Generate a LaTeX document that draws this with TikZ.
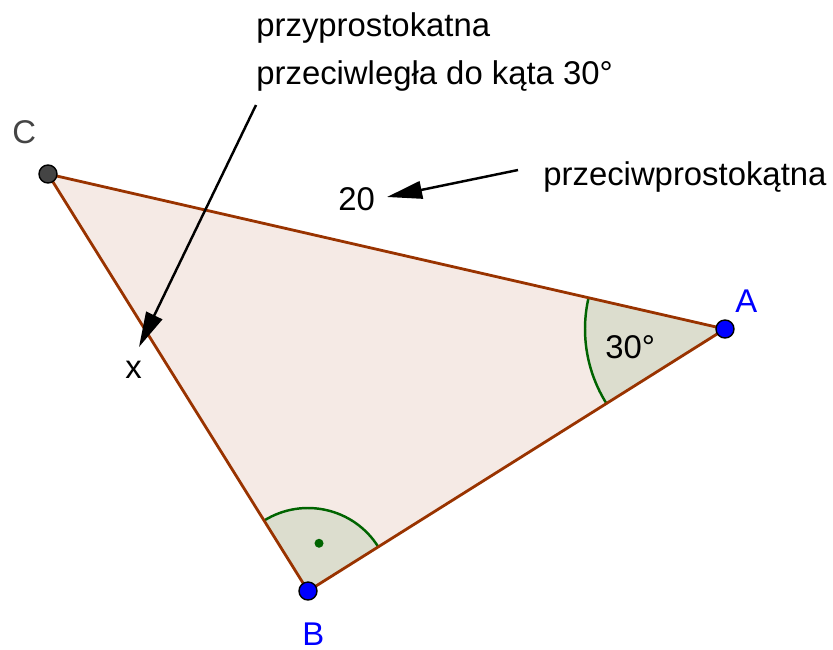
\documentclass[tikz,border=0pt]{standalone}
\usepackage{fontspec}
\setmainfont{Liberation Sans}
\usepackage{xcolor}
\usetikzlibrary{arrows.meta,calc}
\definecolor{ggbrown}{HTML}{993300}
\definecolor{gggreen}{HTML}{006400}
\definecolor{ggblue}{HTML}{0000FF}
\definecolor{gggray}{HTML}{444444}

\begin{document}
\begin{tikzpicture}[
  bok/.style={draw=ggbrown, line width=1.6pt, line join=round},
  kat/.style={fill=gggreen, fill opacity=0.1},
  luk/.style={draw=gggreen, line width=1.4pt},
  punkt/.style={circle, draw=black, line width=0.8pt, minimum size=0.36cm, inner sep=0pt},
  napis/.style={anchor=base west, inner sep=0pt, font=\fontsize{18.7}{22}\selectfont},
  strzalka/.style={-{Triangle[length=20pt, width=10pt]}, line width=1.4pt, black}]
\useasboundingbox (0,0) rectangle (16.66,-12.98);
\coordinate (C) at (0.96,-3.48);
\coordinate (A) at (14.5,-6.58);
\coordinate (B) at (6.16,-11.82);
\fill[ggbrown, fill opacity=0.1] (A) -- (B) -- (C) -- cycle;
\fill[kat] (A) -- ++(167.1:2.8) arc[start angle=167.1, end angle=212.1, radius=2.8] -- cycle;
\draw[luk] ($(A)+(167.1:2.8)$) arc[start angle=167.1, end angle=212.1, radius=2.8];
\fill[kat] (B) -- ++(32.1:1.66) arc[start angle=32.1, end angle=121.9, radius=1.66] -- cycle;
\draw[luk] ($(B)+(32.1:1.66)$) arc[start angle=32.1, end angle=121.9, radius=1.66];
\fill[gggreen] ($(B)+(77:0.98)$) circle (0.09);
\draw[bok] (A) -- (B) -- (C) -- cycle;
\node[punkt, fill=gggray] (pC) at (C) {};
\node[punkt, fill=ggblue] (pA) at (A) {};
\node[punkt, fill=ggblue] (pB) at (B) {};
\node[napis, text=gggray] (lC) at (0.24,-2.86) {C};
\node[napis, text=ggblue] (lA) at (14.70,-6.24) {A};
\node[napis, text=ggblue] (lB) at (6.04,-12.90) {B};
\node[napis] (alfa) at (12.10,-7.16) {30°};
\node[napis] (x) at (2.50,-7.56) {x};
\node[napis] (dl) at (6.76,-4.20) {20};
\node[napis] (opis1) at (5.12,-0.72) {przyprostokatna};
\node[napis] (opis2) at (5.12,-1.68) {przeciwległa do kąta 30°};
\node[napis] (opis3) at (10.86,-3.70) {przeciwprostokątna};
\coordinate (s1) at (5.12,-2.10);
\coordinate (k1) at (2.78,-6.94);
\coordinate (s2) at (10.36,-3.40);
\coordinate (k2) at (7.74,-3.94);
\draw[strzalka] (s1) -- (k1);
\draw[strzalka] (s2) -- (k2);
\end{tikzpicture}
\end{document}
